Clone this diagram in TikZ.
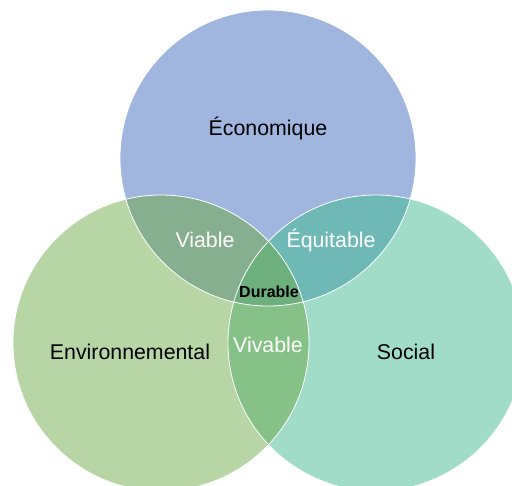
\documentclass[tikz,border=0pt]{standalone}
\usepackage{fontspec}
\setmainfont{Liberation Sans}
\definecolor{ecoblue}{HTML}{A0B6DF}
\definecolor{envgreen}{HTML}{B7D5A5}
\definecolor{socgreen}{HTML}{A0DCC7}
\definecolor{viablec}{HTML}{86AF8F}
\definecolor{equitc}{HTML}{6EB8B6}
\definecolor{vivablec}{HTML}{86C287}
\definecolor{durablec}{HTML}{6DB07D}
\begin{document}
\begin{tikzpicture}[x=0.75pt,y=-0.75pt,
  big/.style={font=\fontsize{16}{19}\selectfont},
  lens/.style={big, text=white},
  rim/.style={draw=white, line width=0.6pt}]
\useasboundingbox (0,0) rectangle (512,486);
\clip (0,0) rectangle (512,486);
\coordinate (ce) at (268,158);
\coordinate (cl) at (161,343);
\coordinate (cr) at (376,343);
% circles
\fill[ecoblue] (ce) circle[radius=111pt];
\fill[envgreen] (cl) circle[radius=111pt];
\fill[socgreen] (cr) circle[radius=111pt];
% overlaps
\begin{scope}
\clip (ce) circle[radius=111pt];
\fill[viablec] (cl) circle[radius=111pt];
\fill[equitc] (cr) circle[radius=111pt];
\end{scope}
\begin{scope}
\clip (cl) circle[radius=111pt];
\fill[vivablec] (cr) circle[radius=111pt];
\clip (cr) circle[radius=111pt];
\fill[durablec] (ce) circle[radius=111pt];
\end{scope}
\draw[rim] (ce) circle[radius=111pt];
\draw[rim] (cl) circle[radius=111pt];
\draw[rim] (cr) circle[radius=111pt];
% labels
\node[big] (eco) at (268,128) {Économique};
\node[big] (env) at (130,352) {Environnemental};
\node[big] (soc) at (406,352) {Social};
\node[lens] (viable) at (205,240) {Viable};
\node[lens] (equit) at (331,240) {Équitable};
\node[lens] (vivable) at (268,345) {Vivable};
\node[font=\fontsize{12}{14}\selectfont\bfseries] (durable) at (269,292) {Durable};
\end{tikzpicture}
\end{document}
